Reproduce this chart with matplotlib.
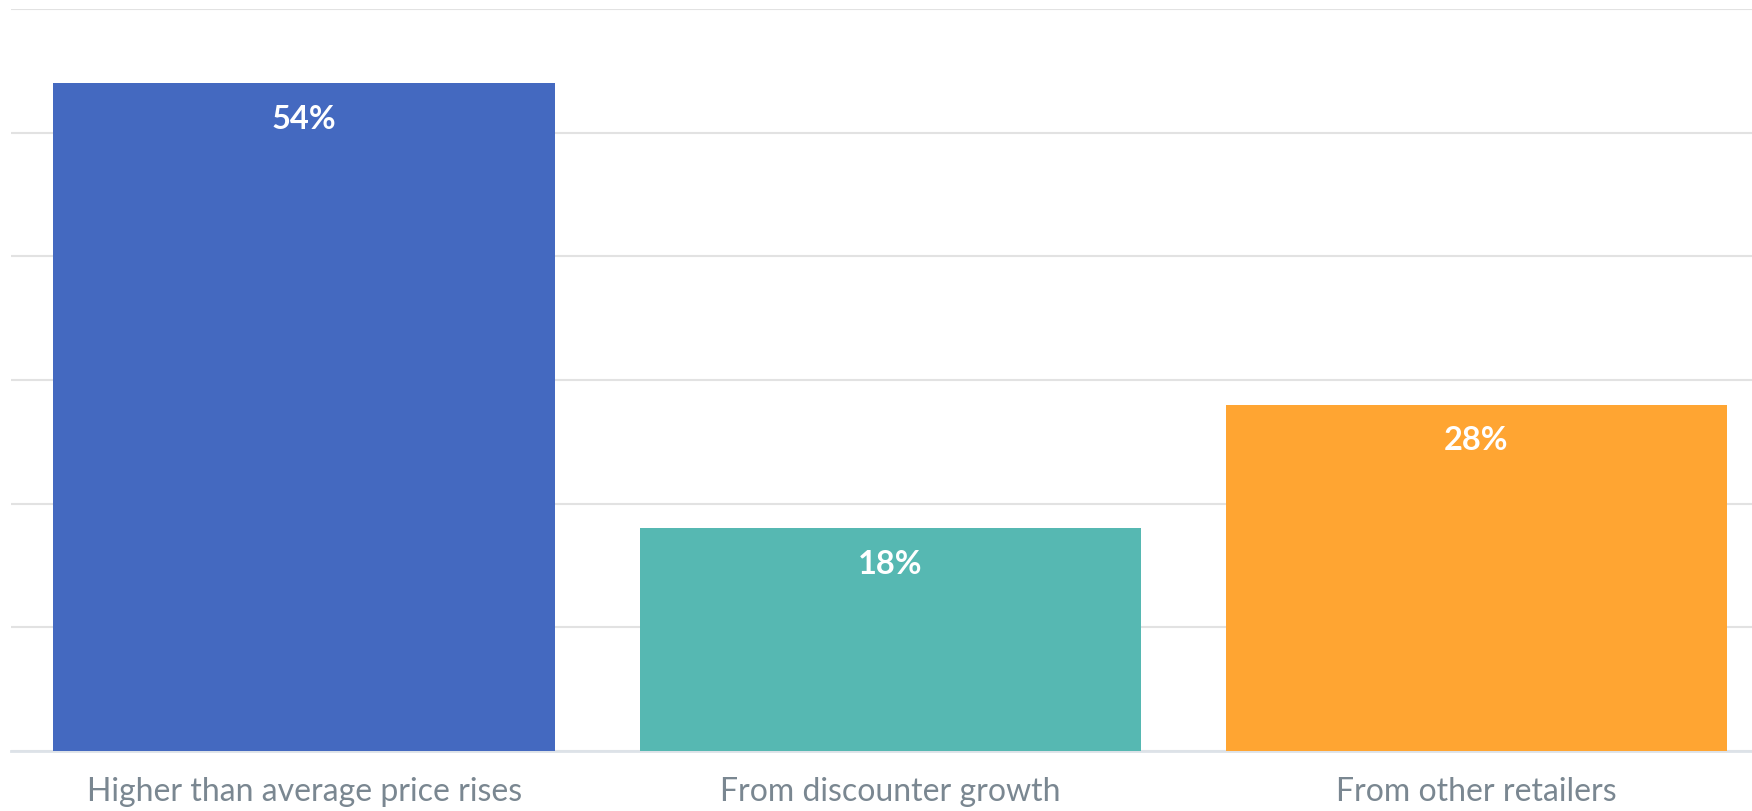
import matplotlib
matplotlib.use("Agg")
import matplotlib.pyplot as plt

categories = ["Higher than average price rises", "From discounter growth", "From other retailers"]
values = [54, 18, 28]
colors = ["#4469c0", "#56b8b2", "#ffa532"]
grid_ticks = [0, 10, 20, 30, 40, 50, 60]

plt.rcParams["font.family"] = ["Lato", "DejaVu Sans"]

fig = plt.figure(figsize=(17.52, 8.11), dpi=100)
ax = fig.add_axes([11 / 1752, 60 / 811, 1 - 11 / 1752, 742 / 811])

x = range(len(categories))
bars = ax.bar(x, values, width=0.855, color=colors, zorder=3)

# value labels inside the top of each bar
for b, v in zip(bars, values):
    ax.annotate(f"{v}%", (b.get_x() + b.get_width() / 2, v),
                xytext=(0, -36), textcoords="offset pixels",
                ha="center", va="center", color="white", fontsize=23.5, fontweight="bold", zorder=4)

ax.set_xlim(-0.5, 2.47)
ax.set_ylim(0, 60)
ax.set_yticks(grid_ticks)
ax.set_yticklabels([])
ax.set_xticks(list(x))
ax.set_xticklabels(categories, fontsize=23, color="#7a8791")
ax.tick_params(axis="both", length=0)
ax.tick_params(axis="x", pad=19)
ax.grid(axis="y", color="#e2e2e2", linewidth=1.5, zorder=0)
ax.set_axisbelow(True)
for side in ["left", "right", "top"]:
    ax.spines[side].set_visible(False)
ax.spines["bottom"].set_color("#dde2e8")
ax.spines["bottom"].set_linewidth(2)

fig.savefig("out.png", dpi=100)
